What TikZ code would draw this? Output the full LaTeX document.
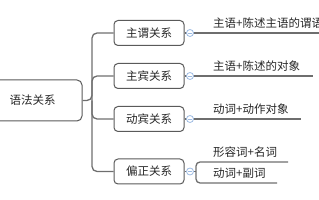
\documentclass[tikz,border=0pt]{standalone}
\usepackage{fontspec}
\setmainfont{Noto Sans CJK SC}
\definecolor{boxgray}{HTML}{5A5A5A}
\definecolor{linegray}{HTML}{6E6E6E}
\definecolor{togblue}{HTML}{9DBBE3}
\begin{document}
\begin{tikzpicture}[x=1pt,y=-1pt,
  box/.style={draw=boxgray, line width=1pt, rounded corners=4pt, fill=white,
    minimum width=70pt, minimum height=25pt, inner sep=0pt,
    font=\fontsize{11.5}{13}\selectfont, text=black!85},
  link/.style={draw=linegray, line width=1.3pt},
  toggle/.style={circle, draw=togblue, fill=white, minimum size=7pt, inner sep=0pt, line width=0.8pt},
  leaf/.style={anchor=base west, inner sep=0pt, font=\fontsize{11.5}{13}\selectfont, text=black!85}]
\useasboundingbox (0,0) rectangle (319,200);
\clip (0,0) rectangle (319,200);
% root and children
\node[box, minimum width=99pt, minimum height=41pt, rounded corners=5pt] (root) at (32.5,100.5) {语法关系};
\node[box] (b1) at (149,33) {主谓关系};
\node[box] (b2) at (149,76) {主宾关系};
\node[box] (b3) at (149,119) {动宾关系};
\node[box] (b4) at (149,171.5) {偏正关系};
\coordinate (j) at (92,100.5);
\draw[link, rounded corners=5pt] (root.east) -- (j) |- (b1.west);
\draw[link, rounded corners=5pt] (j) |- (b2.west);
\draw[link, rounded corners=5pt] (j) |- (b3.west);
\draw[link, rounded corners=5pt] (j) |- (b4.west);
% leaf lines
\coordinate (e1) at (326,33);
\coordinate (e2) at (313,76);
\coordinate (e3) at (301,119);
\coordinate (k1) at (196,171.5);
\coordinate (e4) at (288,162);
\coordinate (e5) at (277,183);
\draw[link] (b1.east) -- (e1);
\draw[link] (b2.east) -- (e2);
\draw[link] (b3.east) -- (e3);
\draw[link] (b4.east) -- (k1);
\draw[link, rounded corners=4pt] (e4) -| (k1) |- (e5);
% toggles
\foreach \i/\y in {1/33,2/76,3/119,4/171.5}{
  \node[toggle] (t\i) at (190,\y) {};
  \draw[togblue, line width=0.6pt] ([xshift=-2pt]t\i.center) -- ([xshift=2pt]t\i.center);
}
% leaf texts
\node[leaf] (l1) at (213,27.5) {主语+陈述主语的谓语};
\node[leaf] (l2) at (213,70.5) {主语+陈述的对象};
\node[leaf] (l3) at (213,113.5) {动词+动作对象};
\node[leaf] (l4) at (213,156.5) {形容词+名词};
\node[leaf] (l5) at (213,177.5) {动词+副词};
\end{tikzpicture}
\end{document}
